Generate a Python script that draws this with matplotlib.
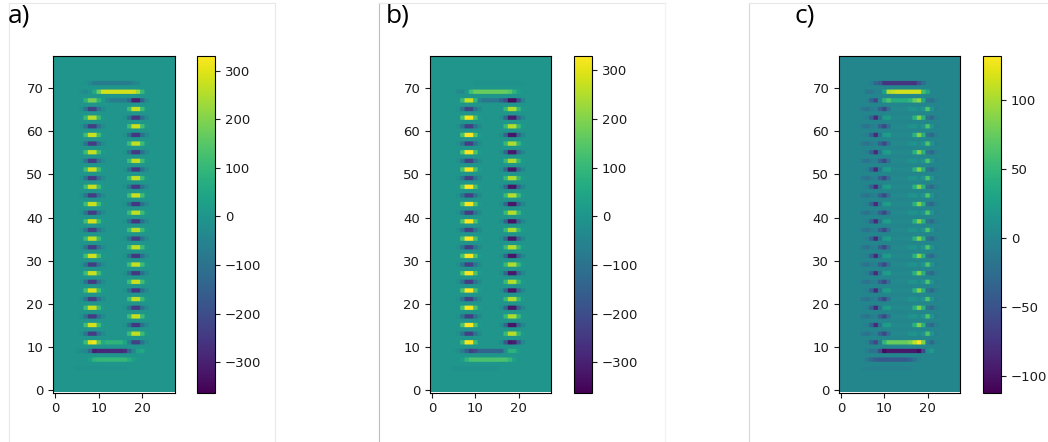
# -*- coding: utf-8 -*-
"""Three heatmaps (a, b, c) of a U-shaped pattern, each with its own colourbar."""
import numpy as np
import matplotlib
matplotlib.use('Agg')
import matplotlib.pyplot as plt
from matplotlib.lines import Line2D

W, H = 1048, 442
N_ROWS, N_COLS = 78, 28

# All full-row lists below cover columns 5..22.
FIRST_COL = 5

# Arm shape, left arm columns 6..11 and right arm columns 16..21
ARM_BRIGHT = [0.0, 0.42, 1.0, 1.0, 0.42, 0.05]
ARM_DARK = [0.06, 0.42, 1.0, 1.0, 0.42, 0.14]

# Odd rows 13..65, bottom to top
a_left = [-235, 285, -240, 270, -235, 290, -240, 275, -235, 280, -235, 265, -230, 285,
          -240, 275, -235, 270, -240, 280, -235, 270, -240, 275, -230, 255, -225]
a_right = [265, -250, 270, -245, 265, -255, 275, -250, 270, -250, 265, -240, 260, -250,
           265, -250, 275, -245, 265, -250, 270, -245, 265, -250, 275, -250, 270]
b_left = [-225, 325, -230, 320, -225, 325, -235, 320, -225, 320, -230, 325, -225, 325,
          -235, 320, -225, 325, -230, 320, -225, 320, -230, 325, -225, 315, -220]
b_right = [255, -320, 245, -315, 250, -325, 250, -315, 245, -320, 250, -320, 245, -325,
           250, -315, 250, -320, 245, -320, 250, -315, 245, -320, 250, -310, 245]

# Panel c repeats two rows in the arms
c_row_low = [-15, -20, -10, -5, -35, -60, -20, 5, 3, 3, 3, 12, 14, 5, 15, 65, 15, -5]
c_row_high = [-3, -8, -35, -82, -18, 20, 25, 3, 3, 3, 3, 5, 45, 85, 45, -20, -30, -8]

# Special rows at the ends of the U
a_rows = {
    5: [-8, -10, -10, -10, -10, -10, -10, -10, -10, -10, -8, -5, 0, 0, 0, 0, 0, 0],
    7: [0, 0, 0, 30, 90, 100, 100, 100, 100, 100, 100, 100, 70, 30, 10, 0, 0, 0],
    9: [-15, -25, -40, -130, -300, -285, -285, -285, -280, -280, -280, -260, -140, -40, 40, 50, 5, 0],
    11: [0, 5, 110, 300, 320, 150, 60, 90, 90, 90, 90, 40, -60, -220, -220, -100, -20, 0],
    67: [0, 0, 90, 190, 190, 90, 10, -40, -70, -70, -70, -70, -130, -300, -300, -150, -30, 0],
    69: [0, -15, -30, -10, 60, 180, 280, 285, 285, 285, 285, 285, 285, 285, 230, 100, 0, 0],
    71: [0, 0, -8, -30, -70, -70, -70, -70, -70, -70, -70, -70, -70, -45, -30, 0, 0, 0],
}
b_rows = {
    5: [-15, -15, -15, -15, -15, -15, -15, -15, -15, -15, -8, 0, 0, 0, 0, 0, 0, 0],
    7: [0, 5, 25, 90, 130, 130, 130, 130, 130, 130, 130, 130, 130, 100, 30, 0, 0, 0],
    9: [-5, -20, -70, -150, -230, -200, -140, -140, -140, -140, -140, -140, -20, 80, 80, 20, 0, 0],
    11: [0, 5, 110, 320, 320, 110, 5, 0, 0, 0, 0, -30, -170, -320, -300, -170, -40, 0],
    67: [0, 5, 110, 270, 270, 100, -50, -90, -90, -90, -90, -150, -200, -340, -340, -200, -60, 0],
    69: [0, -30, -40, 10, 120, 170, 170, 170, 170, 170, 170, 170, 170, 150, 90, 30, 0, 0],
    71: [0, 0, 0, 0, 0, -10, -10, -10, -12, -12, -12, -12, -12, -12, -12, -10, -5, 0],
}
c_rows = {
    5: [-5, -5, -5, -5, -5, -5, -5, -5, -5, -5, -5, -3, 0, 0, 0, 0, 0, 0],
    7: [0, -15, -30, -40, -45, -45, -45, -45, -45, -45, -45, -35, -20, -5, 0, 0, 0, 0],
    9: [0, -10, -20, -20, -55, -105, -95, -95, -95, -95, -95, -95, -95, -105, -55, 10, 20, 0],
    11: [0, -5, -35, -60, -10, 50, 75, 75, 75, 75, 75, 85, 110, 130, 85, -10, -30, -5],
    67: [0, -5, -35, -60, 0, 45, 65, 40, 40, 40, 40, 50, 75, 90, 35, -20, -25, -8],
    69: [0, -15, -15, -5, -5, 30, 105, 110, 115, 115, 115, 115, 115, 115, 60, 35, 0, 0],
    71: [0, 0, -8, -30, -40, -75, -75, -75, -75, -75, -75, -75, -75, -50, -25, -5, 0, 0],
}

a_limits = (-362, 331)
b_limits = (-362, 330)
c_limits = (-112, 132)

cbar_ticks_big = [-300, -200, -100, 0, 100, 200, 300]
cbar_ticks_small = [-100, -50, 0, 50, 100]
x_ticks = [0, 10, 20]
y_ticks = [0, 10, 20, 30, 40, 50, 60, 70]


def put_arm(img, row, start, amp):
    shape = ARM_BRIGHT if amp > 0 else ARM_DARK
    img[row, start:start + len(shape)] = [amp * s for s in shape]


def arm_image(left, right, special):
    img = np.zeros((N_ROWS, N_COLS))
    for i, row in enumerate(range(13, 67, 2)):
        put_arm(img, row, 6, left[i])
        put_arm(img, row, 16, right[i])
    for row, vals in special.items():
        img[row, FIRST_COL:FIRST_COL + len(vals)] = vals
    return img


def c_image():
    img = np.zeros((N_ROWS, N_COLS))
    for i, row in enumerate(range(13, 67, 2)):
        vals = c_row_low if i % 2 == 0 else c_row_high
        img[row, FIRST_COL:FIRST_COL + len(vals)] = vals
    for row, vals in c_rows.items():
        img[row, FIRST_COL:FIRST_COL + len(vals)] = vals
    return img


def px_axes(fig, left, top, right, bottom):
    return fig.add_axes([left / W, 1 - bottom / H, (right - left) / W, (bottom - top) / H])


def draw_panel(fig, img, limits, box, cbox, ticks):
    ax = px_axes(fig, *box)
    # Repeat cells so hanning only softens the edges, like the rescaled original
    fine = np.repeat(np.repeat(img, 3, axis=0), 3, axis=1)
    im = ax.imshow(fine, origin='lower', cmap='viridis', vmin=limits[0], vmax=limits[1],
                   aspect='auto', interpolation='hanning',
                   extent=(-0.5, N_COLS - 0.5, -0.5, N_ROWS - 0.5))
    ax.set_xticks(x_ticks)
    ax.set_yticks(y_ticks)
    ax.tick_params(labelsize=9.5, labelcolor='#1a1a1a', color='#1a1a1a')
    cax = px_axes(fig, *cbox)
    cb = fig.colorbar(im, cax=cax)
    cb.set_ticks(ticks)
    cb.ax.tick_params(labelsize=9.5, labelcolor='#1a1a1a', color='#1a1a1a')


def main():
    fig = plt.figure(figsize=(W / 100, H / 100), dpi=100)

    # Faint frames from the pasted sub-figures
    frames = [
        ((9, 9), (3, 442), '#e8e8e8'), ((9, 275), (3, 3), '#e8e8e8'), ((275, 275), (3, 442), '#e8e8e8'),
        ((379, 379), (3, 442), '#bdbdbd'), ((379, 665), (3, 3), '#e8e8e8'), ((665, 665), (3, 442), '#f2f2f2'),
        ((749, 749), (3, 442), '#d8d8d8'), ((749, 1048), (3, 3), '#e8e8e8'),
    ]
    for xs, ys, colour in frames:
        fig.add_artist(Line2D([x / W for x in xs], [1 - y / H for y in ys], color=colour, lw=0.8))

    draw_panel(fig, arm_image(a_left, a_right, a_rows), a_limits,
               (53, 55.5, 175, 392.5), (197, 55.5, 215, 392.5), cbar_ticks_big)
    draw_panel(fig, arm_image(b_left, b_right, b_rows), b_limits,
               (430, 55.5, 551, 392.5), (574, 55.5, 592, 392.5), cbar_ticks_big)
    draw_panel(fig, c_image(), c_limits,
               (839, 55.5, 960, 392.5), (983, 55.5, 1001, 392.5), cbar_ticks_small)

    for label, x in (('a)', 8), ('b)', 386), ('c)', 794)):
        fig.text(x / W, 1 - 16 / H, label, fontsize=19, family='Open Sans', va='center')

    fig.savefig('out.png', dpi=100)


if __name__ == "__main__":
    main()
